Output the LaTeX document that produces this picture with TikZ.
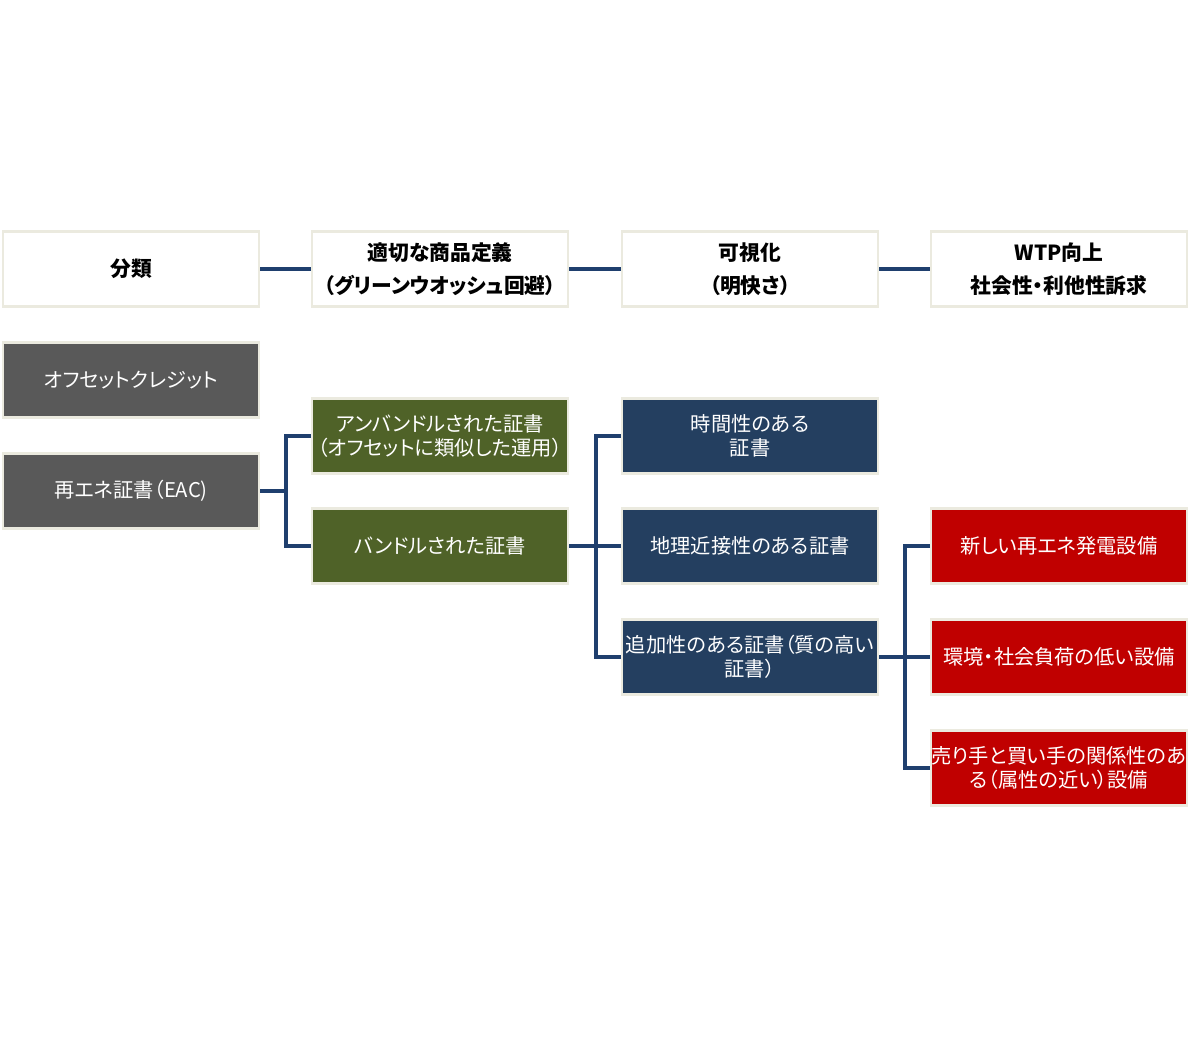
\documentclass[tikz,border=0pt]{standalone}
\usepackage{fontspec}
\setmainfont{Noto Sans CJK JP}[RawFeature=+palt]
\begin{document}
\begin{tikzpicture}[x=0.75pt,y=-0.75pt,
  box/.style={draw=bordc,line width=2.2pt,minimum width=192pt,minimum height=56.5pt,inner sep=0pt,text width=192pt,align=center,font=\fontsize{15.2}{18}\selectfont,text=white},
  head/.style={box,fill=white,text=black,font=\fontsize{15.6}{25}\bfseries\selectfont},
  graybox/.style={box,fill=grayc},
  greenbox/.style={box,fill=greenc},
  bluebox/.style={box,fill=bluec},
  redbox/.style={box,fill=redc},
  conn/.style={draw=linec,line width=2.3pt}]
\definecolor{bordc}{HTML}{EBEADF}
\definecolor{grayc}{HTML}{595959}
\definecolor{greenc}{HTML}{4F6228}
\definecolor{bluec}{HTML}{243F60}
\definecolor{redc}{HTML}{C00000}
\definecolor{linec}{HTML}{1F3F6E}
\useasboundingbox (0,0) rectangle (1200,1039);
% header
\node[head] (h1) at (131,269) {分類};
\node[head] (h2) at (440,269) {適切な商品定義\\（グリーンウオッシュ回避）};
\node[head] (h3) at (750,269) {可視化\\（明快さ）};
\node[head] (h4) at (1059,269) {WTP向上\\社会性・利他性訴求};
\draw[conn] (h1) -- (h2);
\draw[conn] (h2) -- (h3);
\draw[conn] (h3) -- (h4);
% column 1
\node[graybox] (off) at (131,380) {オフセットクレジット};
\node[graybox] (eac) at (131,491) {再エネ証書（EAC)};
% column 2
\node[greenbox] (unb) at (440,436) {アンバンドルされた証書\\（オフセットに類似した運用）};
\node[greenbox] (bun) at (440,546) {バンドルされた証書};
% column 3
\node[bluebox] (tim) at (750,436) {時間性のある\\証書};
\node[bluebox] (geo) at (750,546) {地理近接性のある証書};
\node[bluebox] (add) at (750,657) {追加性のある証書（質の高い\\証書）};
% column 4
\node[redbox] (new) at (1059,546) {新しい再エネ発電設備};
\node[redbox] (env) at (1059,657) {環境・社会負荷の低い設備};
\node[redbox] (rel) at (1059,768) {売り手と買い手の関係性のあ\\る（属性の近い）設備};
% connectors
\coordinate (j1) at (286,491);
\draw[conn] (eac.east) -- (j1);
\draw[conn] (j1) |- (unb.west);
\draw[conn] (j1) |- (bun.west);
\coordinate (j2) at (596,546);
\draw[conn] (bun.east) -- (j2);
\draw[conn] (j2) |- (tim.west);
\draw[conn] (j2) -- (geo.west);
\draw[conn] (j2) |- (add.west);
\coordinate (j3) at (905,657);
\draw[conn] (add.east) -- (j3);
\draw[conn] (j3) |- (new.west);
\draw[conn] (j3) -- (env.west);
\draw[conn] (j3) |- (rel.west);
\end{tikzpicture}
\end{document}
